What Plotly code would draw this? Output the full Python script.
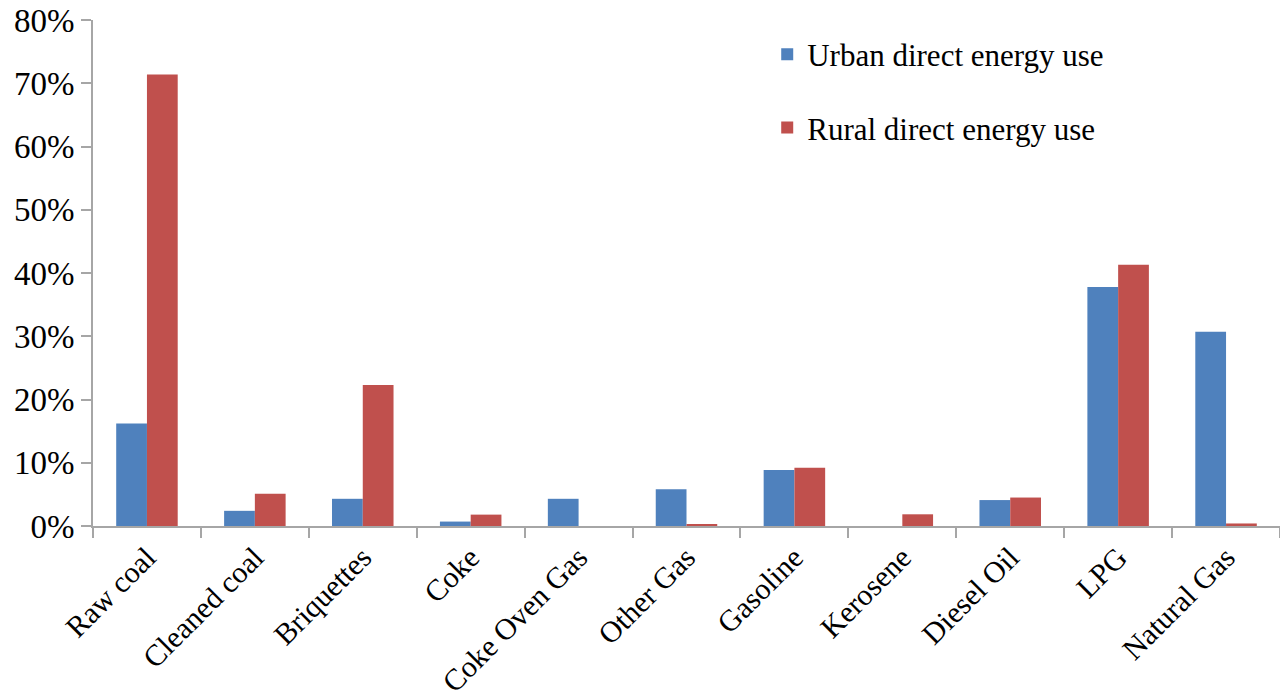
import plotly.graph_objects as go

categories = ["Raw coal", "Cleaned coal", "Briquettes", "Coke", "Coke Oven Gas",
              "Other Gas", "Gasoline", "Kerosene", "Diesel Oil", "LPG", "Natural Gas"]
urban = [0.162, 0.024, 0.043, 0.007, 0.043, 0.058, 0.0885, 0.0, 0.041, 0.378, 0.307]
rural = [0.714, 0.051, 0.223, 0.018, 0.0, 0.0025, 0.092, 0.0185, 0.045, 0.413, 0.004]

FONT = "Liberation Serif, Times New Roman, serif"

fig = go.Figure()
fig.add_trace(go.Bar(x=categories, y=urban, name="Urban direct energy use",
                     legendgroup="u",
                     marker=dict(color="#4F81BD", line=dict(width=0))))
fig.add_trace(go.Bar(x=categories, y=rural, name="Rural direct energy use",
                     legendgroup="r",
                     marker=dict(color="#C0504D", line=dict(width=0))))

fig.update_layout(
    width=1280, height=700,
    margin=dict(l=93, r=0, t=20, b=174),
    paper_bgcolor="white", plot_bgcolor="white",
    barmode="group", bargap=0.43, bargroupgap=0,
    font=dict(family=FONT, size=31, color="black"),
    legend=dict(x=0.568, y=0.985, xanchor="left", yanchor="top",
                tracegroupgap=30, font=dict(size=31, family=FONT),
                bgcolor="rgba(0,0,0,0)", itemwidth=30),
    showlegend=True,
)
fig.update_xaxes(type="category", tickangle=-45, tickson="boundaries",
                 ticks="outside", ticklen=10, tickcolor="#a6a6a6", tickwidth=2,
                 showline=True, linecolor="#a6a6a6", linewidth=2, automargin=False,
                 showgrid=False, tickfont=dict(size=30, family=FONT))
fig.update_yaxes(range=[0, 0.8], dtick=0.1, tickformat=".0%",
                 ticks="outside", ticklen=10, tickcolor="#a6a6a6", tickwidth=2,
                 showline=True, linecolor="#a6a6a6", linewidth=2, automargin=False,
                 showgrid=False, zeroline=False, tickfont=dict(size=33, family=FONT))

fig.write_html("out.html")
